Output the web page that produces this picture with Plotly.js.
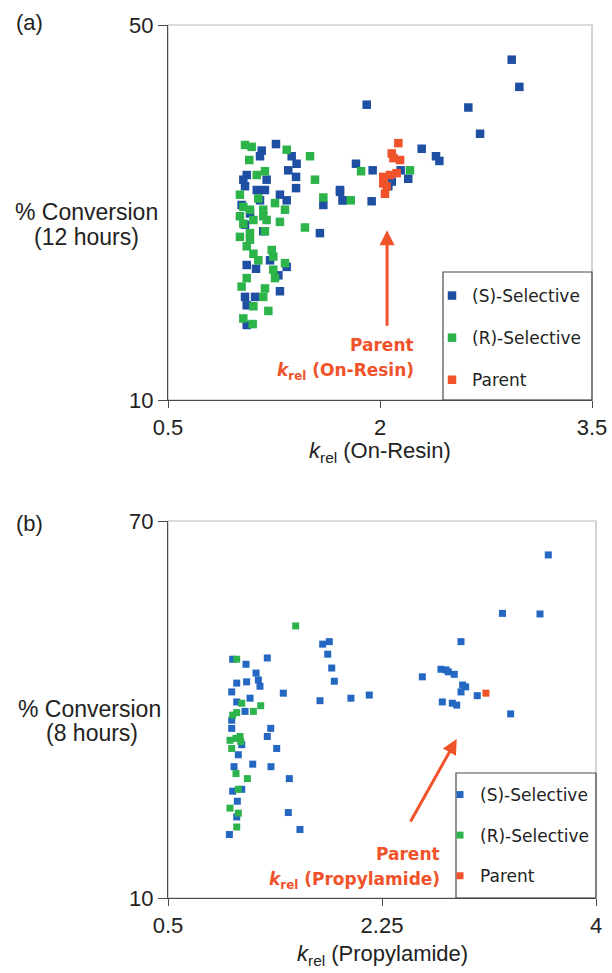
<!DOCTYPE html>
<html><head><meta charset="utf-8">
<script src="https://cdn.plot.ly/plotly-3.0.1.min.js"></script>
<style>html,body{margin:0;padding:0;background:#fff}</style>
</head><body><div id="chart" style="width:612px;height:973px"></div>
<script>
// Panel (a): kRel (On-Resin) vs % Conversion (12 h)
const aS_x = [1.264,1.163,1.151,1.375,1.41,1.351,1.406,1.406,1.057,1.033,1.045,1.198,1.128,1.186,1.292,1.34,1.021,1.599,1.717,1.736,1.575,1.045,1.174,1.057,1.123,1.222,1.34,1.281,1.292,1.045,1.116,1.057,1.057,1.08,1.151,
  2.932,2.986,1.906,2.625,2.708,2.295,2.396,2.42,1.83,1.948,2.2,2.146,1.717,1.736,1.941,2.083,2.059];
const aS_y = [37.3,36.6,36.0,36.0,35.2,34.5,33.8,32.6,34.0,33.5,32.8,33.5,32.4,32.4,31.9,31.3,30.8,30.8,32.2,31.3,27.8,28.7,28.0,24.4,24.0,24.9,24.2,23.3,21.6,21.0,21.0,20.1,18.0,29.9,31.3,
  46.3,43.4,41.5,41.2,38.4,36.8,36.0,35.5,35.2,34.5,33.6,34.5,32.4,31.3,31.2,33.3,32.8];
const aR_x = [1.045,1.092,1.34,1.505,1.075,1.186,1.128,1.54,1.009,1.139,1.599,1.257,1.328,1.033,1.08,1.174,1.009,1.104,1.198,1.292,1.469,1.009,1.08,1.186,1.057,1.104,1.234,1.245,1.328,1.139,1.245,1.257,1.057,1.021,1.186,1.174,1.104,1.21,1.033,1.099,1.033,1.08,1.174,
  1.866,2.212,1.793];
const aR_y = [37.2,37.0,36.7,36.0,35.6,34.4,34.0,33.5,31.9,31.5,31.6,31.0,30.3,30.6,30.3,30.3,29.6,29.2,29.2,29.0,28.4,27.4,27.8,28.0,26.4,25.6,26.0,25.3,24.6,24.9,23.9,23.0,23.0,22.1,21.9,21.0,20.0,19.5,18.7,18.1,28.8,27.1,29.6,
  34.4,34.5,31.3];
const aP_x = [2.13,2.083,2.095,2.142,2.118,2.071,2.023,2.023,2.035,2.047];
const aP_y = [37.4,36.3,35.8,35.6,34.2,34.0,33.8,33.1,32.0,32.8];

// Panel (b): kRel (Propylamide) vs % Conversion (8 h)
const bS_x = [1.029,1.138,1.312,1.22,1.239,1.143,1.062,1.252,1.021,1.443,1.171,1.062,1.743,1.13,1.021,1.021,1.34,1.312,1.103,1.075,1.389,1.193,1.04,1.342,1.492,1.103,1.029,1.067,1.484,1.062,1.579,1.002,1.765,1.819,1.806,1.839,1.86,
  3.61,3.235,3.542,2.896,2.732,2.773,2.792,2.841,2.58,2.909,2.934,2.896,3.029,2.146,1.996,2.743,2.825,2.861,3.302];
const bS_y = [48.0,47.2,48.2,45.8,44.7,44.4,44.2,43.7,42.8,42.6,41.8,41.2,41.4,39.7,38.3,37.0,37.0,35.7,34.4,32.8,33.8,31.3,30.9,30.9,29.0,27.3,27.0,25.4,23.6,22.9,20.9,20.1,50.4,50.8,48.8,46.6,44.5,
  64.6,55.3,55.2,50.8,46.4,46.3,46.0,45.6,45.2,43.9,43.6,42.8,42.2,42.3,41.8,41.2,41.0,40.7,39.3];
const bR_x = [1.544,1.062,1.103,1.258,1.198,1.062,1.029,1.007,1.089,1.056,1.095,1.021,1.056,1.149,1.075,1.007,1.075,1.062];
const bR_y = [53.3,48.0,41.0,40.6,39.7,39.5,39.1,35.1,35.7,35.4,34.9,33.8,29.8,29.0,27.3,24.3,23.5,21.3];
const bP_x = [3.1];
const bP_y = [42.6];

const seriesNames = ['(S)-Selective','(R)-Selective','Parent'];
const aXticks = [0.5,2,3.5], aYticks = [10,50];
const bXticks = [0.5,2.25,4], bYticks = [10,70];
const bXtickText = ['0.5','2.25','4'];

const W = 612, H = 973;
const px = v => v / W, py = v => 1 - v / H;
const FONT = 'Liberation Sans, Arial, sans-serif';
const WIDE = 'DejaVu Sans, sans-serif';
const RED = '#f0522a';

function tr(x, y, name, color, size, xa, ya, leg, grp) {
  return {x, y, name, type:'scatter', mode:'markers', xaxis:xa, yaxis:ya, legend:leg, legendgroup:grp,
    marker:{symbol:'square', size, color, line:{width:0}}, hoverinfo:'skip'};
}
const data = [
  tr(aS_x, aS_y, seriesNames[0], '#1f4fa3', 8.5, 'x', 'y', 'legend', 'a1'),
  tr(aR_x, aR_y, seriesNames[1], '#2cb34a', 8.5, 'x', 'y', 'legend', 'a2'),
  tr(aP_x, aP_y, seriesNames[2], RED, 8.5, 'x', 'y', 'legend', 'a3'),
  tr(bS_x, bS_y, seriesNames[0], '#2367c2', 7, 'x2', 'y2', 'legend2', 'b1'),
  tr(bR_x, bR_y, seriesNames[1], '#2db34c', 7, 'x2', 'y2', 'legend2', 'b2'),
  tr(bP_x, bP_y, seriesNames[2], RED, 7, 'x2', 'y2', 'legend2', 'b3'),
];

const axBase = {showgrid:false, zeroline:false, showline:true, linecolor:'#4a4a4a', linewidth:1.2,
  ticks:'outside', tickcolor:'#4a4a4a', tickfont:{family:FONT, size:22, color:'#222'}, fixedrange:true};

function txt(x, y, text, size, opts) {
  return Object.assign({xref:'paper', yref:'paper', x:px(x), y:py(y), xanchor:'center', yanchor:'middle',
    text, showarrow:false, font:{family:FONT, size, color:'#222'}}, opts || {});
}

const layout = {
  width:W, height:H, margin:{l:0,r:0,t:0,b:0}, paper_bgcolor:'#fff', plot_bgcolor:'rgba(0,0,0,0)',
  font:{family:FONT, color:'#222'},
  xaxis:Object.assign({}, axBase, {domain:[px(168),px(592)], range:[0.5,3.5], tickvals:aXticks, ticklen:7, anchor:'y'}),
  yaxis:Object.assign({}, axBase, {domain:[py(400),py(25)], range:[10,50], tickvals:aYticks, ticklen:9, anchor:'x'}),
  xaxis2:Object.assign({}, axBase, {domain:[px(168),px(596)], range:[0.5,4], tickvals:bXticks, ticktext:bXtickText, ticklen:7, anchor:'y2'}),
  yaxis2:Object.assign({}, axBase, {domain:[py(898),py(521)], range:[10,70], tickvals:bYticks, ticklen:9, anchor:'x2'}),
  legend:{x:px(432), y:py(278), xanchor:'left', yanchor:'top', bgcolor:'rgba(0,0,0,0)', borderwidth:0,
    font:{family:WIDE, size:17, color:'#222'}, tracegroupgap:17, itemwidth:30},
  legend2:{x:px(440), y:py(777), xanchor:'left', yanchor:'top', bgcolor:'rgba(0,0,0,0)', borderwidth:0,
    font:{family:WIDE, size:17, color:'#222'}, tracegroupgap:15.5, itemwidth:30},
  shapes:[
    {type:'rect', xref:'x domain', yref:'y domain', x0:0, x1:1, y0:0, y1:1, line:{color:'#b8b8b8', width:1.2}, layer:'below'},
    {type:'rect', xref:'x2 domain', yref:'y2 domain', x0:0, x1:1, y0:0, y1:1, line:{color:'#b8b8b8', width:1.2}, layer:'below'},
    {type:'rect', xref:'paper', yref:'paper', x0:px(443), x1:px(592), y0:py(400), y1:py(272), line:{color:'#4a4a4a', width:1.2}, fillcolor:'rgba(0,0,0,0)'},
    {type:'rect', xref:'paper', yref:'paper', x0:px(456), x1:px(596), y0:py(898), y1:py(773), line:{color:'#4a4a4a', width:1.2}, fillcolor:'rgba(0,0,0,0)'},
  ],
  annotations:[
    txt(14, 22, '(a)', 22, {xanchor:'left'}),
    txt(14, 523, '(b)', 22, {xanchor:'left'}),
    txt(86, 212, '% Conversion', 23),
    txt(86, 237, '(12 hours)', 23),
    txt(89, 709, '% Conversion', 23),
    txt(92, 733, '(8 hours)', 23),
    txt(380, 452, '<i>k</i><sub>rel</sub> (On-Resin)', 22),
    txt(382, 955, '<i>k</i><sub>rel</sub> (Propylamide)', 22),
    // arrows
    {xref:'x', yref:'y', x:2.05, y:28.1, ax:0, ay:97, showarrow:true, arrowhead:2, arrowsize:1, arrowwidth:3, arrowcolor:RED, text:''},
    {xref:'x2', yref:'y2', x:2.861, y:35.3, ax:-47, ay:84, showarrow:true, arrowhead:2, arrowsize:1, arrowwidth:3, arrowcolor:RED, text:''},
    txt(416, 345, '<b>Parent</b>', 17, {xanchor:'right', font:{family:WIDE, size:17, color:RED}}),
    txt(416, 371, '<b><i>k</i><sub>rel</sub> (On-Resin)</b>', 17, {xanchor:'right', font:{family:WIDE, size:17, color:RED}}),
    txt(442, 854, '<b>Parent</b>', 17, {xanchor:'right', font:{family:WIDE, size:17, color:RED}}),
    txt(442, 880, '<b><i>k</i><sub>rel</sub> (Propylamide)</b>', 17, {xanchor:'right', font:{family:WIDE, size:17, color:RED}}),
  ]
};
Plotly.newPlot('chart', data, layout, {displayModeBar:false, staticPlot:true});
</script></body></html>
